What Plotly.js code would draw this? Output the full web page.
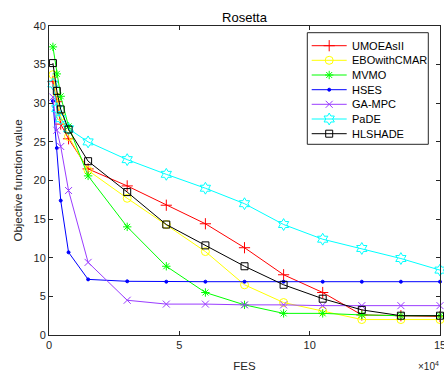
<!DOCTYPE html>
<html>
<head>
<meta charset="utf-8">
<script src="https://cdn.plot.ly/plotly-3.0.1.min.js"></script>
<style>
  html, body { margin: 0; padding: 0; background: #fff; }
  #chart { width: 444px; height: 379px; }
</style>
</head>
<body>
<div id="chart"></div>
<script>
// Function evaluations at which the best objective value was recorded
const fes = [1500, 3000, 4500, 7500, 15000, 30000, 45000, 60000, 75000, 90000, 105000, 120000, 135000, 150000];

// Best objective function value per algorithm
const umoeasii   = [32.8, 30.2, 27.3, 25.4, 21.5, 19.3, 16.8, 14.4, 11.3, 7.8, 5.5, 2.6, 2.5, 2.4];
const ebowithcmar = [33.7, 30.8, 28.3, 25.7, 21.3, 17.7, 14.3, 10.8, 6.5, 4.2, 3.1, 2.0, 2.0, 2.0];
const mvmo       = [37.3, 33.8, 30.9, 27.0, 20.6, 14.0, 8.9, 5.5, 3.9, 2.8, 2.8, 2.6, 2.5, 2.5];
const hses       = [30.3, 24.2, 17.4, 10.7, 7.2, 6.95, 6.9, 6.9, 6.9, 6.9, 6.9, 6.9, 6.9, 6.9];
const gampc      = [30.8, 26.5, 24.4, 18.7, 9.4, 4.5, 4.0, 4.0, 3.9, 3.9, 3.8, 3.8, 3.8, 3.8];
const pade       = [32.5, 29.3, 28.0, 26.7, 25.0, 22.7, 20.8, 19.0, 17.0, 14.3, 12.4, 11.2, 9.9, 8.4];
const hlshade    = [35.2, 31.6, 29.2, 26.6, 22.5, 18.5, 14.3, 11.6, 8.9, 6.5, 4.7, 3.25, 2.5, 2.5];

const names = ['UMOEAsII', 'EBOwithCMAR', 'MVMO', 'HSES', 'GA-MPC', 'PaDE', 'HLSHADE'];
const series = [umoeasii, ebowithcmar, mvmo, hses, gampc, pade, hlshade];

const xTickVals = [0, 50000, 100000, 150000];
const xTickText = ['0', '5', '10', '15'];
const yTickVals = [0, 5, 10, 15, 20, 25, 30, 35, 40];

const FONT = 'Liberation Sans, Arial, sans-serif';

// Styles: colour, marker symbol, marker size
const styles = [
  { color: '#ff0000', symbol: 'cross-thin-open', size: 8 },
  { color: '#ffff00', symbol: 'circle-open', size: 8 },
  { color: '#00ff00', symbol: 'asterisk-open', size: 7 },
  { color: '#0000ff', symbol: 'circle', size: 3 },
  { color: '#9a3cff', symbol: 'x-thin-open', size: 7 },
  { color: '#00ffff', symbol: 'hexagram-open', size: 9 },
  { color: '#000000', symbol: 'square-open', size: 7 }
];

const traces = [];
series.forEach((ys, i) => {
  const s = styles[i];
  traces.push({
    type: 'scatter', mode: 'lines+markers', name: names[i],
    x: fes, y: ys,
    line: { color: s.color, width: 1 },
    marker: { symbol: s.symbol, size: s.size, color: s.color, line: { color: s.color, width: 1 } },
    showlegend: false, cliponaxis: false
  });
});

// Legend drawn on an overlay axis measured in pixels from the plot's top-left corner
const legRowY = [19.7, 34.3, 49, 63.7, 78.3, 93, 107.7];
const legLineX0 = 262.7, legLineX1 = 297.7, legMarkX = 280.2, legTextX = 301;
const annotations = [];
names.forEach((n, i) => {
  const s = styles[i];
  traces.push({
    type: 'scatter', mode: 'lines', xaxis: 'x2', yaxis: 'y2',
    x: [legLineX0, legLineX1], y: [legRowY[i], legRowY[i]],
    line: { color: s.color, width: 1 }, showlegend: false, hoverinfo: 'skip'
  });
  traces.push({
    type: 'scatter', mode: 'markers', xaxis: 'x2', yaxis: 'y2',
    x: [legMarkX], y: [legRowY[i]],
    marker: { symbol: s.symbol, size: s.size, color: s.color, line: { color: s.color, width: 1 } },
    showlegend: false, hoverinfo: 'skip'
  });
  annotations.push({
    xref: 'x2', yref: 'y2', x: legTextX, y: legRowY[i], text: n,
    showarrow: false, xanchor: 'left', yanchor: 'middle',
    font: { family: FONT, size: 11, color: '#000' }
  });
});

// Exponent note for the FES axis, below the right end of the axis
annotations.push({
  xref: 'paper', yref: 'paper', x: 1, y: 0, xanchor: 'right', yanchor: 'middle',
  yshift: -31, xshift: 1,
  text: '×10<sup>4</sup>', showarrow: false,
  font: { family: FONT, size: 10, color: '#262626' }
});

const axisCommon = {
  showline: true, mirror: 'ticks', linecolor: '#262626', linewidth: 1,
  ticks: 'inside', ticklen: 4, tickcolor: '#262626', tickwidth: 1,
  showgrid: false, zeroline: false, ticklabeloverflow: 'allow',
  tickfont: { family: FONT, size: 11, color: '#262626' }
};

const layout = {
  width: 444, height: 379,
  margin: { l: 49, r: 4, t: 26, b: 44 },
  paper_bgcolor: '#ffffff', plot_bgcolor: '#ffffff',
  showlegend: false,
  title: {
    text: 'Rosetta', x: 0.5, xref: 'paper', y: 1, yref: 'paper', yanchor: 'bottom', pad: { b: 4 },
    font: { family: FONT, size: 13, color: '#000' }
  },
  xaxis: Object.assign({}, axisCommon, {
    range: [0, 150000], tickvals: xTickVals, ticktext: xTickText,
    title: { text: 'FES', standoff: 11, font: { family: FONT, size: 11.5, color: '#262626' } }
  }),
  yaxis: Object.assign({}, axisCommon, {
    range: [0, 40], tickvals: yTickVals,
    title: { text: 'Objective function value', standoff: 8, font: { family: FONT, size: 11.5, color: '#262626' } }
  }),
  xaxis2: { overlaying: 'x', range: [0, 391], visible: false, fixedrange: true },
  yaxis2: { overlaying: 'y', range: [309, 0], visible: false, fixedrange: true },
  shapes: [{
    type: 'rect', xref: 'x2', yref: 'y2', x0: 258.3, x1: 379.3, y0: 6.7, y1: 118.3,
    line: { color: '#262626', width: 1 }, fillcolor: '#ffffff', layer: 'below'
  }],
  annotations: annotations
};

Plotly.newPlot('chart', traces, layout, { staticPlot: true, displayModeBar: false });
</script>
</body>
</html>
